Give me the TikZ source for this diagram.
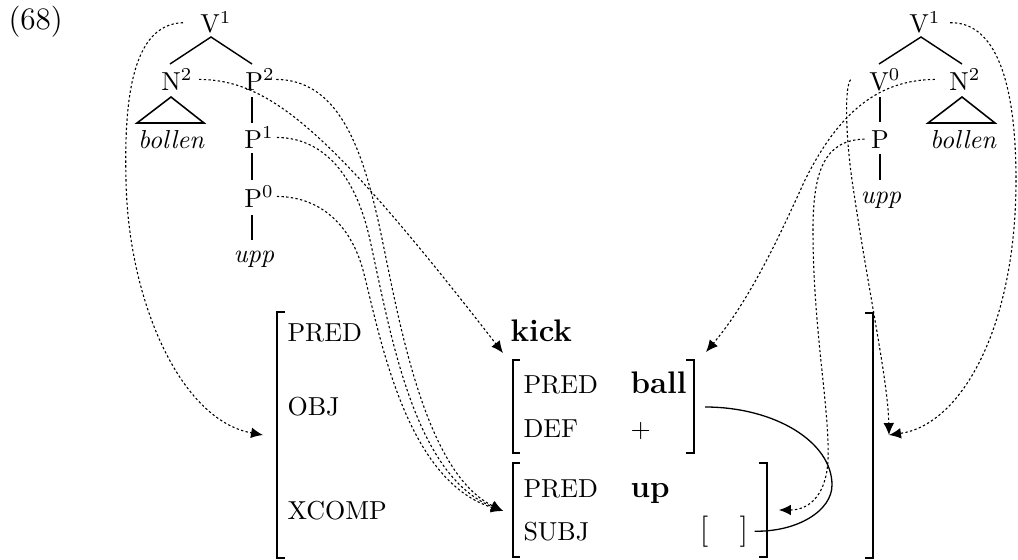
\documentclass[tikz,border=0pt]{standalone}
\usetikzlibrary{arrows.meta}
\begin{document}
\begin{tikzpicture}[x=0.3846pt,y=-0.3846pt,
  cat/.style={anchor=base,inner sep=0pt},
  word/.style={anchor=base,inner sep=0pt,font=\itshape},
  lbl/.style={anchor=base west,inner sep=0pt},
  val/.style={anchor=base west,inner sep=0pt,font=\large\bfseries},
  branch/.style={line width=0.55pt},
  stem/.style={line width=1pt},
  roof/.style={line width=0.6pt},
  fbrack/.style={line width=0.85pt},
  link/.style={line width=0.42pt,dash pattern=on 0.9pt off 0.9pt,-{Latex[length=4.6pt,width=4.1pt]}},
  share/.style={line width=0.5pt}]
\useasboundingbox (0,0) rectangle (1018,560);

\node[anchor=base west,inner sep=0pt,font=\large] (ex) at (8,29) {(68)};

% ---------- left tree ----------
\node[cat] (lV1) at (216,33) {V$^1$};
\node[cat] (lN2) at (177,90) {N$^2$};
\node[cat] (lP2) at (260,90) {P$^2$};
\node[word] (lbollen) at (171,148) {bollen};
\node[cat] (lP1) at (259,148) {P$^1$};
\node[cat] (lP0) at (259,207) {P$^0$};
\node[word] (lupp) at (254,262) {upp};

\draw[branch] (170,64) -- (211,37) -- (252,64);
\draw[roof] (137,123) -- (171,97) -- (204,123) -- cycle;
\draw[stem] (252,97) -- (252,123);
\draw[stem] (252,153) -- (252,180);
\draw[stem] (252,215) -- (252,240);

% ---------- right tree ----------
\node[cat] (rV1) at (925,33) {V$^1$};
\node[cat] (rV0) at (885,90) {V$^0$};
\node[cat] (rN2) at (965,90) {N$^2$};
\node[word] (rbollen) at (963,148) {bollen};
\node[cat] (rP) at (880,148) {P};
\node[word] (rupp) at (881,203) {upp};

\draw[branch] (879,64) -- (921,37) -- (962,64);
\draw[roof] (928,123) -- (962,97) -- (995,123) -- cycle;
\draw[stem] (880,97) -- (880,122);
\draw[stem] (880,154) -- (880,180);

% ---------- f-structure ----------
\draw[fbrack] (285,312) -- (277,312) -- (277,558) -- (285,558);
\draw[fbrack] (865,313) -- (873,313) -- (873,558) -- (865,558);
\draw[fbrack] (520,360) -- (513,360) -- (513,453) -- (520,453);
\draw[fbrack] (686,360) -- (694,360) -- (694,453) -- (686,453);
\draw[fbrack] (520,463) -- (513,463) -- (513,557) -- (520,557);
\draw[fbrack] (759,463) -- (767,463) -- (767,557) -- (759,557);

\node[lbl] (fpred) at (287,341) {PRED};
\node[lbl] (fobj) at (287,415) {OBJ};
\node[lbl] (fxcomp) at (287,519) {XCOMP};
\node[val] (kick) at (510,341) {kick};

\node[lbl] (opred) at (523,393) {PRED};
\node[lbl] (odef) at (523,437) {DEF};
\node[val] (ball) at (630,393) {ball};
\node[lbl] (plus) at (630,437) {$+$};

\node[lbl] (xpred) at (523,497) {PRED};
\node[lbl] (xsubj) at (523,540) {SUBJ};
\node[val] (up) at (630,497) {up};
\node[anchor=base,inner sep=0pt,font=\large] (sv) at (724,539) {$[\quad]$};

% ---------- connector end points ----------
\coordinate (oL) at (263,435);
\coordinate (oR) at (889,435);
\coordinate (objL) at (503,353);
\coordinate (objR) at (706,352);
\coordinate (xcL) at (503,511);
\coordinate (xcR) at (779,510);
\coordinate (objS) at (705,407);

% ---------- left links ----------
\draw[link] ([xshift=-6.5pt]lV1.west) .. controls (132,24) and (124,100) .. (126,180)
  .. controls (128,300) and (180,420) .. (oL);
\draw[link] ([xshift=2.3pt]lN2.east) .. controls (270,80) and (330,130) .. (objL);
\draw[link] ([xshift=0.4pt]lP2.east) .. controls (335,80) and (360,140) .. (378,220)
  .. controls (396,300) and (420,470) .. (xcL);
\draw[link] ([xshift=1pt]lP1.east) .. controls (330,138) and (358,185) .. (370,240)
  .. controls (390,330) and (413,475) .. (xcL);
\draw[link] ([xshift=1pt]lP0.east) .. controls (325,197) and (352,230) .. (363,270)
  .. controls (380,335) and (405,480) .. (xcL);

% ---------- right links ----------
\draw[link] ([xshift=3.5pt]rV1.east) .. controls (995,22) and (1016,80) .. (1016,180)
  .. controls (1016,330) and (960,425) .. (oR);
\draw[link] ([xshift=-7pt]rV0.west) .. controls (845,85) and (845,130) .. (852,180)
  .. controls (868,290) and (888,380) .. (oR);
\draw[link] ([xshift=-5.4pt]rN2.west) .. controls (880,80) and (840,110) .. (805,180)
  .. controls (780,235) and (750,300) .. (objR);
\draw[link] ([xshift=-2.3pt]rP.west) .. controls (825,140) and (813,170) .. (813,230)
  .. controls (813,330) and (830,410) .. (828,460)
  .. controls (826,500) and (805,510) .. (xcR);

% ---------- structure sharing ----------
\draw[share] (objS) .. controls (775,407) and (832,442) .. (832,485)
  .. controls (832,511) and (797,532) .. ([xshift=2.3pt]sv.east);
\end{tikzpicture}
\end{document}
